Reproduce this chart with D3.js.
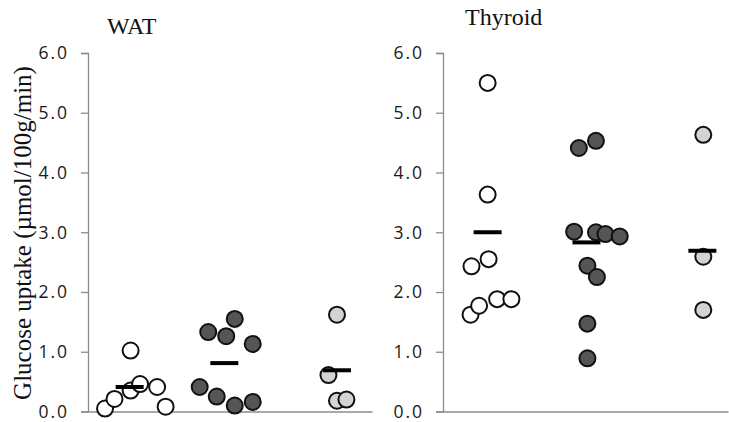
<!DOCTYPE html>
<html>
<head>
<meta charset="utf-8">
<script src="https://cdn.jsdelivr.net/npm/d3@7"></script>
<style>
  body { margin: 0; background: #fff; }
  svg { display: block; }
  .tick text { font-family: "Open Sans", sans-serif; font-size: 17.5px; fill: #1a1a1a; letter-spacing: 2px; }
  .title, .ylabel { font-family: "Liberation Serif", "Times New Roman", serif; fill: #111; }
</style>
</head>
<body>
<svg width="729" height="422"></svg>
<script>
// DATA
// three groups per tissue: open, dark and light circles
const groupFills = ["#ffffff", "#555555", "#d3d3d3"];
const yTicks = [0, 1, 2, 3, 4, 5, 6];

// WAT glucose uptake per animal, one array per group
const watValues = [
  [0.05, 0.21, 1.02, 0.35, 0.46, 0.41, 0.08],
  [0.41, 1.33, 0.25, 1.26, 1.55, 0.10, 1.13, 0.16],
  [0.61, 1.62, 0.18, 0.20],
];
// horizontal scatter of each point (group index + offset)
const watJitter = [
  [0.18, 0.28, 0.45, 0.45, 0.55, 0.73, 0.82],
  [1.18, 1.27, 1.36, 1.46, 1.55, 1.55, 1.74, 1.74],
  [2.54, 2.63, 2.63, 2.73],
];
const watMeans = [0.41, 0.81, 0.69];
const watMeanPos = [0.44, 1.44, 2.63];

// Thyroid glucose uptake per animal
const thyValues = [
  [1.62, 1.77, 2.43, 5.50, 3.63, 2.55, 1.88, 1.88],
  [3.01, 4.41, 2.44, 1.47, 0.89, 4.53, 3.00, 2.25, 2.97, 2.93],
  [4.63, 2.59, 1.70],
];
const thyJitter = [
  [0.29, 0.38, 0.30, 0.47, 0.47, 0.48, 0.57, 0.72],
  [1.38, 1.43, 1.52, 1.52, 1.52, 1.61, 1.61, 1.62, 1.71, 1.86],
  [2.74, 2.74, 2.74],
];
const thyMeans = [3.0, 2.83, 2.69];
const thyMeanPos = [0.47, 1.51, 2.73];

// SETUP
const svg = d3.select("svg");
const marginTop = 53,
  height = 358.5;

const panels = [
  { title: "WAT", left: 88, width: 284, titleX: 107, titleY: 34,
    values: watValues, jitter: watJitter, means: watMeans, meanPos: watMeanPos },
  { title: "Thyroid", left: 443, width: 285, titleX: 465, titleY: 25,
    values: thyValues, jitter: thyJitter, means: thyMeans, meanPos: thyMeanPos },
];

const yScale = d3.scaleLinear().domain([0, 6]).range([height, 0]);

panels.forEach((p) => {
  const g = svg.append("g").attr("transform", `translate(${p.left},${marginTop})`);
  const xScale = d3.scaleLinear().domain([0, 3]).range([0, p.width]);

  // y axis
  const yAxis = d3
    .axisLeft(yScale)
    .tickValues(yTicks)
    .tickFormat(d3.format(".1f"))
    .tickSizeOuter(0)
    .tickSize(7)
    .tickPadding(12);
  const ya = g.append("g").call(yAxis);
  ya.select(".domain").attr("stroke", "#8c8c8c").attr("stroke-width", 1.3);
  ya.selectAll(".tick line").attr("stroke", "#8c8c8c").attr("stroke-width", 1.3);
  ya.selectAll(".tick text").attr("dy", "0.34em");

  // x axis baseline, no ticks
  const xa = g
    .append("g")
    .attr("transform", `translate(0,${height})`)
    .call(d3.axisBottom(xScale).tickValues([]).tickSizeOuter(0));
  xa.select(".domain").attr("stroke", "#8c8c8c").attr("stroke-width", 1.3);

  // points
  p.values.forEach((vals, gi) => {
    g.append("g")
      .selectAll("circle")
      .data(vals)
      .enter()
      .append("circle")
      .attr("cx", (d, i) => xScale(p.jitter[gi][i]))
      .attr("cy", (d) => yScale(d))
      .attr("r", 8)
      .attr("fill", groupFills[gi])
      .attr("stroke", "#111")
      .attr("stroke-width", 2);
  });

  // group means
  g.append("g")
    .selectAll("rect")
    .data(p.means)
    .enter()
    .append("rect")
    .attr("x", (d, i) => xScale(p.meanPos[i]) - 14)
    .attr("y", (d) => yScale(d) - 2)
    .attr("width", 28)
    .attr("height", 4)
    .attr("fill", "#000");

  svg
    .append("text")
    .attr("class", "title")
    .attr("x", p.titleX)
    .attr("y", p.titleY)
    .attr("font-size", 24)
    .text(p.title);
});

// y axis label
svg
  .append("text")
  .attr("class", "ylabel")
  .attr("transform", "translate(30.5,233) rotate(-90)")
  .attr("text-anchor", "middle")
  .attr("font-size", 25)
  .text("Glucose uptake (µmol/100g/min)");
</script>
</body>
</html>
